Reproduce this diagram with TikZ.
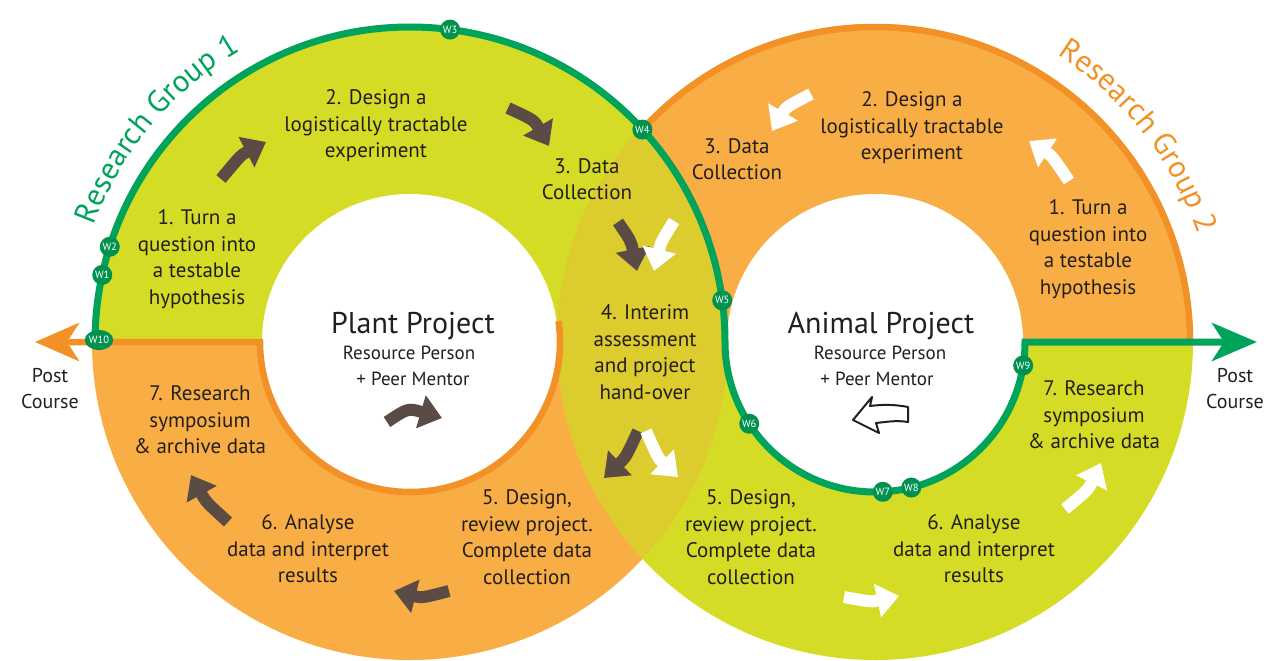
\documentclass[tikz,border=0pt]{standalone}
\usepackage{fontspec}
\setmainfont{PT Sans}
\usetikzlibrary{arrows.meta,decorations.text,shapes.geometric}
\definecolor{yg}{HTML}{D5DC26}
\definecolor{lor}{HTML}{F8AE45}
\definecolor{dor}{HTML}{F29126}
\definecolor{mus}{HTML}{DDCC2E}
\definecolor{grn}{HTML}{00A35A}
\definecolor{dgrn}{HTML}{00914E}
\definecolor{brn}{HTML}{5A4B44}
\definecolor{txt}{HTML}{231F20}
\begin{document}
\begin{tikzpicture}[x=1pt,y=-1pt,
  steptext/.style={align=center,text=txt,font=\fontsize{21}{26.5}\selectfont,inner sep=0pt},
  titletext/.style={text=txt,font=\fontsize{30}{30}\selectfont,inner sep=0pt},
  subtext/.style={text=txt,font=\fontsize{19}{19}\selectfont,inner sep=0pt},
  posttext/.style={align=center,text=txt,font=\fontsize{20}{26}\selectfont,inner sep=0pt},
  wmark/.style={circle,fill=dgrn,text=white,font=\fontsize{10.5}{10.5}\selectfont,inner sep=0.3pt,minimum size=20pt},
  wmarkwide/.style={ellipse,fill=dgrn,text=white,font=\fontsize{10.5}{10.5}\selectfont,inner sep=0pt,minimum width=27pt,minimum height=20pt},
  brownarr/.style={draw=brn,line width=12pt,-{Triangle[length=22pt,width=33pt]}},
  whitearr/.style={draw=white,line width=12pt,-{Triangle[length=22pt,width=33pt]}},
  greenline/.style={draw=grn,line width=7pt},
  orangeline/.style={draw=dor,line width=6.5pt}
]
\useasboundingbox (0,0) rectangle (1269,661);
\coordinate (CL) at (410,342);
\coordinate (CR) at (875,342);

% ring fills
\begin{scope}
  \clip (0,0) rectangle (1269,342);
  \fill[yg] (CL) circle[radius=318];
  \fill[lor] (CR) circle[radius=318];
\end{scope}
\begin{scope}
  \clip (0,342) rectangle (1269,661);
  \fill[lor] (CL) circle[radius=318];
  \fill[yg] (CR) circle[radius=318];
\end{scope}
\begin{scope}
  \clip (CL) circle[radius=318];
  \fill[mus] (CR) circle[radius=318];
\end{scope}
\fill[white] (CL) circle[radius=148];
\fill[white] (CR) circle[radius=148];

% borders
\draw[orangeline,{Stealth[length=44pt,width=38pt,inset=12pt]}-] (35,342) -- (260,342) arc[start angle=180,end angle=-8,radius=150];
\draw[orangeline] ([shift={(222.4:315)}]CR) arc[start angle=222.4,end angle=360,radius=315];
\draw[greenline,-{Stealth[length=45pt,width=38pt,inset=12pt]}] (95,342) arc[start angle=180,end angle=360,radius=315] arc[start angle=180,end angle=0,radius=150] -- (1257,342);

% markers
\node[wmark] (w1) at ([shift={(192.3:315)}]CL) {W1};
\node[wmark] (w2) at ([shift={(197.6:315)}]CL) {W2};
\node[wmark] (w3) at ([shift={(277.3:315)}]CL) {W3};
\node[wmark] (w4) at ([shift={(222.4:315)}]CR) {W4};
\node[wmark] (w5) at ([shift={(352.4:315)}]CL) {W5};
\node[wmark] (w6) at ([shift={(147:150)}]CR) {W6};
\node[wmark] (w7) at ([shift={(87:150)}]CR) {W7};
\node[wmark] (w8) at ([shift={(76:150)}]CR) {W8};
\node[wmark] (w9) at ([shift={(9:150)}]CR) {W9};
\node[wmarkwide] (w10) at (99,340) {W10};

% group labels
\path[decorate,decoration={text along path,text align=center,text color=grn,
  text={|\fontsize{31}{31}\selectfont|Research Group 1}}]
  ([shift={(190:337)}]CL) arc[start angle=190,end angle=250,radius=337];
\path[decorate,decoration={text along path,text align=center,text color=dor,
  text={|\fontsize{31}{31}\selectfont|Research Group 2}}]
  ([shift={(292:340)}]CR) arc[start angle=292,end angle=352,radius=340];

% left ring texts
\node[steptext] (l1) at (197,259) {1. Turn a\\question into\\a testable\\hypothesis};
\node[steptext] (l2) at (376,126) {2. Design a\\logistically tractable\\experiment};
\node[steptext] (l3) at (587,179) {3. Data\\Collection};
\node[steptext] (l4) at (645,352) {4. Interim\\assessment\\and project\\hand-over};
\node[steptext] (l5) at (527,537) {5. Design,\\review project.\\Complete data\\collection};
\node[steptext] (l6) at (308,549) {6. Analyse\\data and interpret\\results};
\node[steptext] (l7) at (200,420) {7. Research\\symposium\\\& archive data};
% right ring texts
\node[steptext] (r1) at (1088,249) {1. Turn a\\question into\\a testable\\hypothesis};
\node[steptext] (r2) at (912,128) {2. Design a\\logistically tractable\\experiment};
\node[steptext] (r3) at (737,159) {3. Data\\Collection};
\node[steptext] (r5) at (751,537) {5. Design,\\review project.\\Complete data\\collection};
\node[steptext] (r6) at (974,549) {6. Analyse\\data and interpret\\results};
\node[steptext] (r7) at (1094,415) {7. Research\\symposium\\\& archive data};

% centre texts
\node[titletext] (pp) at (413,326) {Plant Project};
\node[subtext] (ppr) at (409,353) {Resource Person};
\node[subtext] (ppm) at (413,379) {+ Peer Mentor};
\node[titletext] (ap) at (881,326) {Animal Project};
\node[subtext] (apr) at (880,353) {Resource Person};
\node[subtext] (apm) at (877,379) {+ Peer Mentor};

\node[posttext] (pcl) at (50,389) {Post\\Course};
\node[posttext] (pcr) at (1235,389) {Post\\Course};

% brown arrows (left ring)
\draw[brownarr] (221,179) .. controls (241,155) .. (266,142);
\draw[brownarr] (508,108) .. controls (534,120) .. (549,146);
\draw[brownarr] (618,222) .. controls (631,241) .. (637,271);
\draw[brownarr] (638,431) .. controls (626,457) .. (604,478);
\draw[brownarr] (449,591) .. controls (422,598) .. (394,591);
\draw[brownarr] (228,522) .. controls (206,502) .. (191,475);
\draw[brownarr] (387,422) .. controls (408,408) .. (442,418);

% white arrows (right ring)
\draw[whitearr] (1069,181) .. controls (1052,156) .. (1029,141);
\draw[whitearr] (811,94) .. controls (786,107) .. (772,131);
\draw[whitearr] (674,221) .. controls (661,242) .. (654,271);
\draw[whitearr] (646,431) .. controls (658,458) .. (678,477);
\draw[whitearr] (844,597) .. controls (871,602) .. (899,596);
\draw[whitearr] (1065,509) .. controls (1088,490) .. (1101,463);

% outlined arrow (right centre)
\draw[fill=white,draw=txt,line width=2pt,line join=round]
  (853,420) -- (872,397) -- (870,406) .. controls (885,404) and (898,405) .. (908,407)
  -- (908,422) .. controls (896,420) and (886,422) .. (876,423) -- (879,433) -- cycle;
\end{tikzpicture}
\end{document}
